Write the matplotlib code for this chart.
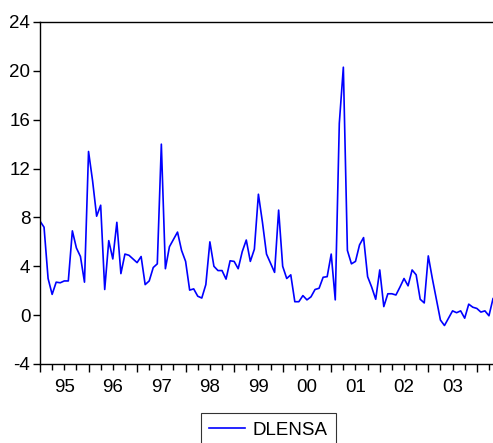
import matplotlib
matplotlib.use("Agg")
import matplotlib.pyplot as plt
import numpy as np

plt.rcParams['font.family'] = ['Liberation Sans', 'DejaVu Sans']

series_name = "DLENSA"
start_year = 1995
dlensa = [7.7, 7.2, 3.0, 1.7, 2.7, 2.65, 2.8, 2.8, 6.9, 5.5, 4.8, 2.7,
          13.4, 11.0, 8.1, 9.0, 2.1, 6.1, 4.6, 7.6, 3.4, 5.0, 4.9, 4.6,
          4.3, 4.8, 2.5, 2.8, 3.9, 4.2, 14.0, 3.8, 5.6, 6.2, 6.8, 5.3,
          4.4, 2.05, 2.15, 1.55, 1.4, 2.5, 6.0, 4.0, 3.65, 3.65, 2.95, 4.45,
          4.4, 3.8, 5.2, 6.15, 4.4, 5.4, 9.9, 7.6, 5.0, 4.25, 3.5, 8.6,
          4.0, 3.0, 3.3, 1.1, 1.1, 1.6, 1.25, 1.5, 2.1, 2.2, 3.1, 3.15,
          5.0, 1.25, 15.7, 20.3, 5.3, 4.2, 4.4, 5.75, 6.35, 3.15, 2.3, 1.3,
          3.7, 0.7, 1.75, 1.75, 1.65, 2.3, 3.0, 2.4, 3.7, 3.3, 1.3, 1.0,
          4.85, 3.0, 1.3, -0.4, -0.85, -0.25, 0.35, 0.2, 0.35, -0.25, 0.9, 0.65,
          0.55, 0.25, 0.35, -0.05, 1.35]
year_labels = ["95", "96", "97", "98", "99", "00", "01", "02", "03"]
y_ticks = [-4, 0, 4, 8, 12, 16, 20, 24]

W, H = 493, 443
FS = 13.5
fig = plt.figure(figsize=(W / 100, H / 100), dpi=100)
ax = fig.add_axes([40 / W, 1 - 364 / H, 1 - 40 / W, (364 - 22) / H])

x = np.arange(len(dlensa))
ax.plot(x, dlensa, color='#0000ff', lw=1.2, label=series_name)

ax.set_yticks(y_ticks)
ax.set_yticklabels([str(v) for v in y_ticks], fontsize=FS)
ax.tick_params(axis='y', direction='out', length=5, width=1, pad=2)

n = len(dlensa)
ax.set_xticks([m for m in range(0, n, 12)])
ax.set_xticks([m for m in range(0, n, 3) if m % 12 != 0], minor=True)
ax.set_xticklabels([])
ax.tick_params(axis='x', which='major', direction='out', length=6, width=1)
ax.tick_params(axis='x', which='minor', direction='out', length=4, width=1)
ax.set_xlim(0, n - 1)
ax.set_ylim(-4, 24)
for k, lab in enumerate(year_labels):
    ax.text(12 * k + 6, -0.045, lab, transform=ax.get_xaxis_transform(),
            ha='center', va='top', fontsize=FS)

for s in ['left', 'top', 'bottom']:
    ax.spines[s].set_linewidth(1.0)
ax.spines['right'].set_visible(False)

leg = fig.legend(loc='upper center', bbox_to_anchor=(268.5 / W, 1 - 413 / H),
                 fontsize=FS, frameon=True, fancybox=False, handlelength=1.9,
                 borderpad=0.45, handletextpad=0.4, borderaxespad=0)
leg.get_frame().set_edgecolor('black')
leg.get_frame().set_linewidth(0.8)

fig.savefig("out.png", dpi=100)
